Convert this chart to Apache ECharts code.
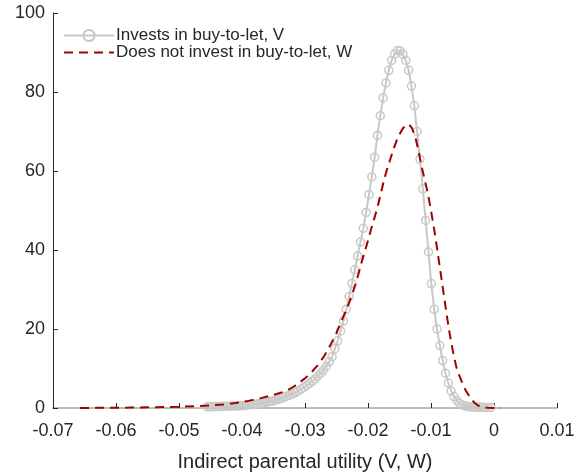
<!DOCTYPE html>
<html>
<head>
<meta charset="utf-8">
<script src="https://cdn.jsdelivr.net/npm/echarts@6/dist/echarts.min.js"></script>
<style>
html,body{margin:0;padding:0;background:#fff;}
#chart{width:587px;height:472px;}
</style>
</head>
<body>
<div id="chart"></div>
<script>
// Tick values
var xTicksMin = -0.07, xTicksMax = 0.01, xTickStep = 0.01;
var yTicksMin = 0, yTicksMax = 100, yTickStep = 20;

// Series names
var seriesNames = ['Invests in buy-to-let, V', 'Does not invest in buy-to-let, W'];
var xAxisTitle = 'Indirect parental utility (V, W)';

// Series V (grey, circles)
var vX = [-0.04550,-0.04505,-0.04460,-0.04415,-0.04370,-0.04325,-0.04280,-0.04235,-0.04190,-0.04145,
  -0.04100,-0.04055,-0.04010,-0.03965,-0.03920,-0.03875,-0.03830,-0.03785,-0.03740,-0.03695,
  -0.03650,-0.03605,-0.03560,-0.03515,-0.03470,-0.03425,-0.03380,-0.03335,-0.03290,-0.03245,
  -0.03200,-0.03155,-0.03110,-0.03065,-0.03020,-0.02975,-0.02930,-0.02885,-0.02840,-0.02795,
  -0.02750,-0.02705,-0.02660,-0.02615,-0.02570,-0.02525,-0.02480,-0.02435,-0.02390,-0.02345,
  -0.02300,-0.02255,-0.02210,-0.02165,-0.02120,-0.02075,-0.02030,-0.01985,-0.01940,-0.01895,
  -0.01850,-0.01805,-0.01760,-0.01715,-0.01670,-0.01625,-0.01580,-0.01535,-0.01490,-0.01445,
  -0.01400,-0.01355,-0.01310,-0.01265,-0.01220,-0.01175,-0.01130,-0.01085,-0.01040,-0.00995,
  -0.00950,-0.00905,-0.00860,-0.00815,-0.00770,-0.00725,-0.00680,-0.00635,-0.00590,-0.00545,
  -0.00500,-0.00455,-0.00410,-0.00365,-0.00320,-0.00275,-0.00230,-0.00185,-0.00140,-0.00095,
  -0.00050];
var vY = [0.30,0.30,0.33,0.35,0.37,0.40,0.42,0.44,0.46,0.48,
  0.50,0.55,0.60,0.66,0.72,0.80,0.88,0.98,1.08,1.20,
  1.35,1.50,1.65,1.80,2.00,2.20,2.45,2.70,3.00,3.25,
  3.50,3.90,4.30,4.75,5.20,5.70,6.20,6.80,7.40,8.10,
  8.80,9.60,10.60,11.70,13.00,15.00,17.00,19.50,22.00,25.00,
  28.20,31.50,35.00,38.50,42.00,45.50,49.50,54.00,58.50,63.50,
  69.00,74.00,78.50,82.30,85.50,88.00,89.60,90.50,90.40,89.50,
  88.00,85.50,81.50,76.50,70.00,63.00,55.50,47.50,39.50,31.50,
  25.00,20.00,15.80,12.00,8.80,6.30,4.30,2.90,1.90,1.20,
  0.75,0.50,0.35,0.28,0.22,0.20,0.18,0.16,0.15,0.15,
  0.15];

// Series W (dark red, dashed)
var wX = [-0.0657,-0.0620,-0.0580,-0.0540,-0.0500,-0.0470,-0.0450,-0.0430,-0.0410,-0.0390,
  -0.0370,-0.0350,-0.0330,-0.0320,-0.0310,-0.0300,-0.0290,-0.0280,-0.0270,-0.0260,
  -0.0250,-0.0240,-0.0230,-0.0225,-0.0220,-0.0215,-0.0210,-0.0205,-0.0200,-0.0195,
  -0.0190,-0.0185,-0.0180,-0.0175,-0.0170,-0.0165,-0.0160,-0.0155,-0.0150,-0.0145,
  -0.0140,-0.0135,-0.0130,-0.0125,-0.0120,-0.0115,-0.0110,-0.0105,-0.0100,-0.0095,
  -0.0090,-0.0085,-0.0080,-0.0075,-0.0070,-0.0065,-0.0060,-0.0055,-0.0050,-0.0045,
  -0.0040,-0.0035,-0.0030,-0.0025,-0.0020,-0.0015,-0.0010,0.0000,0.0011];
var wY = [0.0,0.05,0.10,0.18,0.30,0.45,0.65,0.90,1.25,1.80,
  2.50,3.30,4.30,5.20,6.30,7.50,9.00,10.80,13.00,15.80,
  19.00,22.80,26.60,28.80,31.30,34.00,37.00,39.70,42.40,45.30,
  48.00,50.80,54.00,57.50,60.30,62.80,65.30,67.50,69.30,70.70,
  71.60,71.80,70.80,68.70,65.20,61.20,57.80,54.30,50.00,45.30,
  40.00,34.50,29.00,23.50,18.50,14.20,10.50,8.20,6.20,4.50,
  3.20,2.00,1.20,0.60,0.30,0.15,0.08,0.03,0.0];

function pairs(xs, ys){ var out=[]; for (var i=0;i<xs.length;i++) out.push([xs[i], ys[i]]); return out; }

var chart = echarts.init(document.getElementById('chart'), null, {renderer:'canvas'});
var FONT = 'Liberation Sans, Arial, Helvetica, sans-serif';
var TXT = '#262626';
var GREY = '#c8c8c8';
var RED = '#a00000';

chart.setOption({
  animation: false,
  backgroundColor: '#ffffff',
  grid: {left: 53, right: 30, top: 13, bottom: 64, containLabel: false, outerBoundsMode: 'none'},
  legend: {
    orient: 'vertical',
    left: 63, top: 27, padding: 0,
    itemWidth: 50, itemHeight: 14, itemGap: 0,
    textStyle: {fontFamily: FONT, fontSize: 17, color: TXT, padding: [0, 0, 0, -3]},
    data: [
      {name: seriesNames[0]},
      {name: seriesNames[1], itemStyle: {opacity: 0}}
    ]
  },
  xAxis: {
    type: 'value',
    min: xTicksMin, max: xTicksMax, interval: xTickStep,
    name: xAxisTitle, nameLocation: 'middle', nameGap: 44,
    nameTextStyle: {fontFamily: FONT, fontSize: 20, color: TXT},
    axisLine: {show: true, onZero: false, lineStyle: {color: '#a6a6a6', width: 1.5}},
    axisTick: {show: true, inside: true, length: 5, lineStyle: {color: '#262626'}},
    axisLabel: {fontFamily: FONT, fontSize: 18, color: TXT, margin: 14,
      formatter: function(v){ return String(Math.round(v*100)/100); }},
    splitLine: {show: false}
  },
  yAxis: {
    type: 'value',
    min: yTicksMin, max: yTicksMax, interval: yTickStep,
    axisLine: {show: true, onZero: false, lineStyle: {color: '#262626', width: 1}},
    axisTick: {show: true, inside: true, length: 5, lineStyle: {color: '#262626'}},
    axisLabel: {fontFamily: FONT, fontSize: 18, color: TXT, margin: 8},
    splitLine: {show: false}
  },
  series: [
    {
      name: seriesNames[0],
      type: 'line',
      data: pairs(vX, vY),
      symbol: 'circle',
      symbolSize: 8,
      showAllSymbol: true,
      lineStyle: {color: GREY, width: 2},
      itemStyle: {color: 'rgba(255,255,255,0)', borderColor: GREY, borderWidth: 1.5},
      z: 2
    },
    {
      name: seriesNames[1],
      type: 'line',
      data: pairs(wX, wY),
      symbol: 'none',
      lineStyle: {color: RED, width: 2, type: [9, 6]},
      itemStyle: {color: RED},
      z: 3
    }
  ]
});
</script>
</body>
</html>
